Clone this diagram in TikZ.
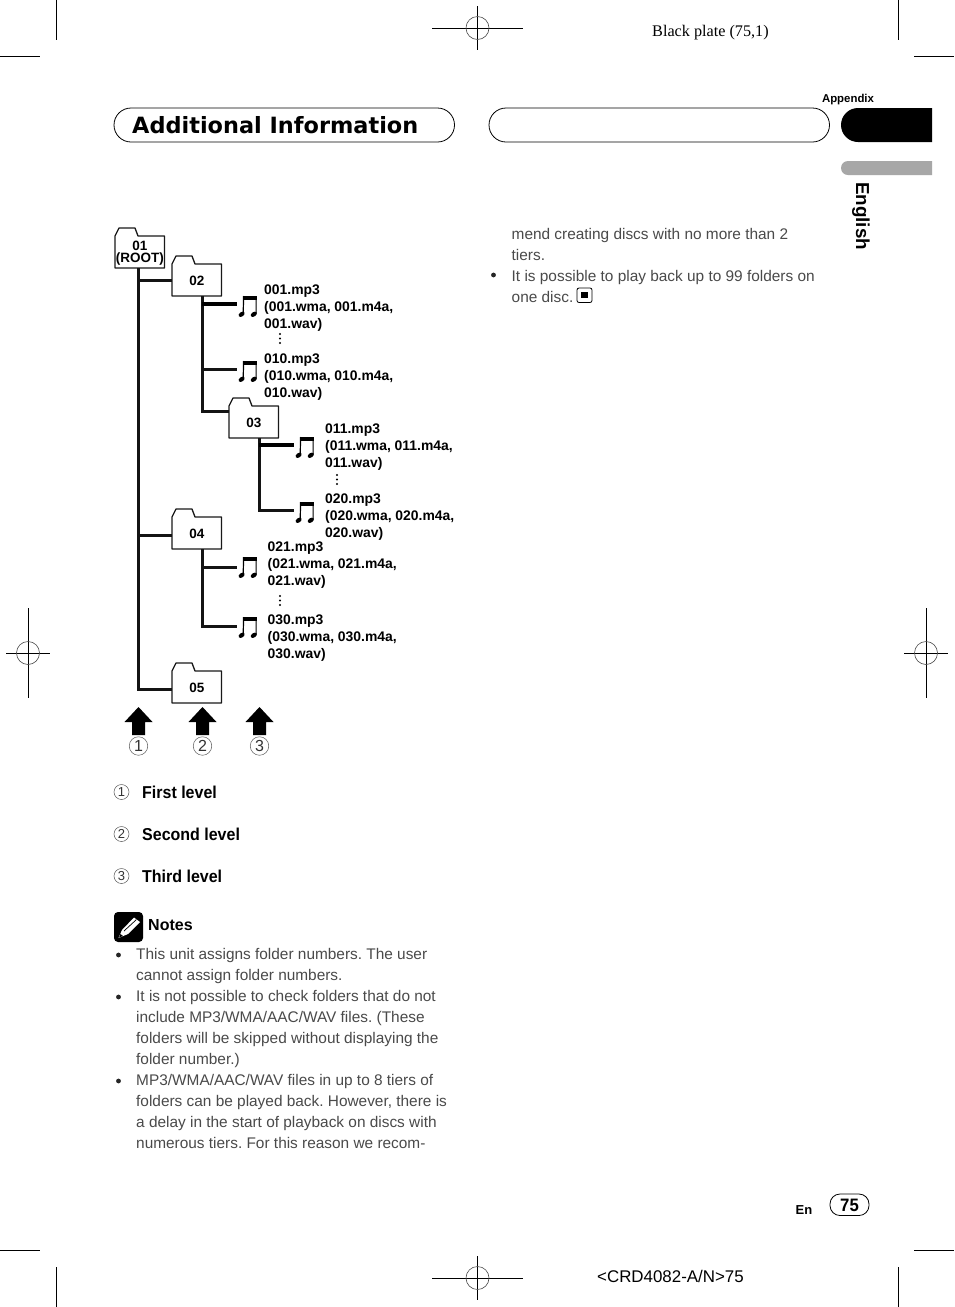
\documentclass[tikz,border=0pt]{standalone}
\usepackage{fontspec}
\setmainfont{Liberation Sans}
\newfontfamily\serifx{Liberation Serif}
\newfontfamily\wide{DejaVu Sans}
\newfontfamily\condb[FakeStretch=0.93]{Liberation Sans}
\definecolor{bodyc}{HTML}{4A4A4A}
\definecolor{tabgray}{HTML}{A7A7A7}
\frenchspacing
\tikzset{
  x=1pt,y=-1pt,
  crop/.style={line width=1pt,black},
  regcircle/.style={line width=0.6pt,black!70},
  pill/.style={line width=0.8pt,black},
  folderbody/.style={rectangle,minimum width=49.5pt,minimum height=32pt,inner sep=0pt,font=\fontsize{13.5}{13.5}\selectfont\bfseries,align=center},
  folderline/.style={fill=white,draw=black!90,line width=1.3pt,line join=round},
  link/.style={line width=3pt,black!92,line cap=butt},
  linkthick/.style={line width=3.3pt,black},
  files/.style={anchor=north west,inner sep=0pt,align=left,font=\fontsize{13.9}{17}\selectfont\bfseries},
  bodytxt/.style={anchor=north west,inner sep=0pt,align=left,text=bodyc,font=\fontsize{15.4}{21}\selectfont},
  legendtxt/.style={anchor=west,inner sep=0pt,font=\fontsize{17.2}{20}\selectfont\condb\bfseries},
  circnum/.style={circle,draw=black!65,line width=0.5pt,inner sep=0pt,text=black!80},
  notecoord/.style={inner sep=0pt,minimum width=1pt,minimum height=1pt},
}
% #1 name, #2 left, #3 body top, #4 label
\newcommand{\folderx}[4]{%
  \draw[folderline] (#2,#3) -- (#2+4,#3-8) -- (#2+20,#3-8) -- (#2+23,#3) -- (#2+49.5,#3) -- (#2+49.5,#3+32) -- (#2,#3+32) -- cycle;
  \node[folderbody,anchor=north west] (#1) at (#2,#3+1) {#4};
}
% #1 name, #2 x left, #3 y top
\newcommand{\notex}[3]{%
  \node[notecoord,anchor=west] (#1) at (#2-1,#3+8) {};
  \fill (#2+5,#3) rectangle (#2+18.7,#3+4);
  \draw[line width=1.2pt] (#2+5.6,#3) -- (#2+5.2,#3+18) (#2+18.1,#3) -- (#2+18.1,#3+18);
  \fill[rotate around={35:(#2+3.6,#3+18.3)}] (#2+3.6,#3+18.3) ellipse (3.4 and 2.2);
  \fill[rotate around={35:(#2+15.8,#3+18.3)}] (#2+15.8,#3+18.3) ellipse (3.4 and 2.2);
}
\newcommand{\uparrowx}[2]{%
  \fill (#1,#2) -- (#1+14,#2+15) -- (#1+6.5,#2+15) -- (#1+6.5,#2+28) -- (#1-6.5,#2+28) -- (#1-6.5,#2+15) -- (#1-14,#2+15) -- cycle;
}
\newcommand{\regx}[4]{% cx cy hhalf vhalf
  \draw[crop] (#1-#3,#2) -- (#1+#3,#2) (#1,#2-#4) -- (#1,#2+#4);
  \draw[regcircle] (#1,#2) circle (11.5);
}
\newcommand{\vdotsx}[2]{%
  \fill (#1,#2) circle (1.1) (#1,#2+4.5) circle (1.1) (#1,#2+9) circle (1.1);
}
\begin{document}
\begin{tikzpicture}
\useasboundingbox (0,0) rectangle (954,1307);
\fill[white] (0,0) rectangle (954,1307);
% crop marks
\draw[crop] (56.5,0) -- (56.5,40) (0,56.5) -- (40,56.5);
\draw[crop] (898,0) -- (898,40) (914,56.5) -- (954,56.5);
\draw[crop] (0,1250) -- (40,1250) (56.5,1267) -- (56.5,1307);
\draw[crop] (914,1250) -- (954,1250) (898,1267) -- (898,1307);
\regx{477.5}{28}{45.5}{22}
\regx{477.5}{1278}{45.5}{22}
\regx{28}{653}{22}{45}
\regx{926}{653}{22}{45}
\node[inner sep=0pt,anchor=west,font=\fontsize{16.2}{16}\selectfont\serifx] (plate) at (652,33) {Black plate (75,1)};
\node[inner sep=0pt,anchor=west,font=\fontsize{16.9}{16}\selectfont] (crd) at (597,1276) {<CRD4082-A/N>75};
% header
\draw[pill,rounded corners=17pt] (114,108) rectangle (454.5,142);
\draw[pill,rounded corners=17pt] (489,108) rectangle (829.5,142);
\node[inner sep=0pt,anchor=west,font=\fontsize{22.4}{24}\selectfont\wide\bfseries] (title) at (132,125) {Additional Information};
\node[inner sep=0pt,font=\fontsize{11.4}{12}\selectfont\bfseries] (appx) at (848,100) {Appendix};
\fill (932,108) -- (858,108) .. controls (848.6,108) and (841,115.6) .. (841,125) .. controls (841,134.4) and (848.6,142) .. (858,142) -- (932,142) -- cycle;
\fill[tabgray] (932,161) -- (848,161) .. controls (844.1,161) and (841,164.1) .. (841,168) .. controls (841,171.9) and (844.1,175) .. (848,175) -- (932,175) -- cycle;
\node[inner sep=0pt,rotate=-90,font=\fontsize{18.8}{18}\selectfont\bfseries] (eng) at (861,216) {English};
% folders
\folderx{f1}{115}{236}{01\\[-1.5pt](ROOT)}
\folderx{f2}{172}{264}{02}
\folderx{f3}{229}{406}{03}
\folderx{f4}{172}{517}{04}
\folderx{f5}{172}{671}{05}
% notes
\notex{n1}{238}{296}
\notex{n2}{238}{361}
\notex{n3}{295}{437}
\notex{n4}{295}{502}
\notex{n5}{238}{557}
\notex{n6}{238}{617}
% links
\draw[link] (138,268) -- (138,689) -- (f5.west |- 0,689);
\draw[link] (138,280) -- (f2.west |- 0,280);
\draw[link] (138,535) -- (f4.west |- 0,535);
\draw[link] (202,296) -- (202,411) -- (f3.west |- 0,411);
\draw[linkthick] (202,304) -- (n1.west);
\draw[link] (202,369) -- (n2.west);
\draw[link] (259,438) -- (259,510) -- (n4.west);
\draw[linkthick] (259,445) -- (n3.west);
\draw[link] (202,549) -- (202,626) -- (n6.west |- 0,626);
\draw[link] (202,567) -- (n5.west |- 0,567);
% file texts
\node[files] (t1) at (264,285) {001.mp3\\(001.wma, 001.m4a,\\001.wav)};
\vdotsx{280}{334}
\node[files] (t2) at (264,354) {010.mp3\\(010.wma, 010.m4a,\\010.wav)};
\node[files] (t3) at (325,424) {011.mp3\\(011.wma, 011.m4a,\\011.wav)};
\vdotsx{337}{475}
\node[files] (t4) at (325,494) {020.mp3\\(020.wma, 020.m4a,\\020.wav)};
\node[files] (t5) at (267.5,542) {021.mp3\\(021.wma, 021.m4a,\\021.wav)};
\vdotsx{280}{596}
\node[files] (t6) at (267.5,615) {030.mp3\\(030.wma, 030.m4a,\\030.wav)};
% arrows
\uparrowx{138.5}{707}
\uparrowx{202.5}{707}
\uparrowx{259.5}{707}
\node[circnum,minimum size=18.5pt,font=\fontsize{16}{16}\selectfont] (c1) at (138.5,746) {1};
\node[circnum,minimum size=18.5pt,font=\fontsize{16}{16}\selectfont] (c2) at (202.5,746) {2};
\node[circnum,minimum size=18.5pt,font=\fontsize{16}{16}\selectfont] (c3) at (259.5,746) {3};
% legend
\node[circnum,minimum size=15pt,font=\fontsize{13}{13}\selectfont] (l1) at (121.5,792) {1};
\node[circnum,minimum size=15pt,font=\fontsize{13}{13}\selectfont] (l2) at (121.5,834) {2};
\node[circnum,minimum size=15pt,font=\fontsize{13}{13}\selectfont] (l3) at (121.5,876) {3};
\node[legendtxt] (lt1) at (142,792) {First level};
\node[legendtxt] (lt2) at (142,834) {Second level};
\node[legendtxt] (lt3) at (142,876) {Third level};
% notes header
\fill[rounded corners=4pt] (114,912) rectangle (143,942);
\fill[white] (122,930) -- (134,917.5) -- (140,922) -- (128,934) -- (118.5,938) -- cycle;
\draw[line width=0.7pt] (124,931) -- (136.5,919.5);
\fill (119,937.5) -- (120.5,934) -- (123,936) -- cycle;
\node[inner sep=0pt,anchor=west,font=\fontsize{16}{16}\selectfont\bfseries] (notes) at (148,925) {Notes};
% body
\node[bodytxt] (b1) at (136,948) {This unit assigns folder numbers. The user\\cannot assign folder numbers.};
\node[bodytxt] (b2) at (136,990) {It is not possible to check folders that do not\\include MP3/WMA/AAC/WAV files. (These\\folders will be skipped without displaying the\\folder number.)};
\node[bodytxt] (b3) at (136,1074) {MP3/WMA/AAC/WAV files in up to 8 tiers of\\folders can be played back. However, there is\\a delay in the start of playback on discs with\\numerous tiers. For this reason we recom-};
\fill[black!85] (118.5,955) circle (2.4) (118.5,997) circle (2.4) (118.5,1081) circle (2.4);
\node[bodytxt] (b4) at (511.5,228) {mend creating discs with no more than 2\\tiers.};
\node[bodytxt] (b5) at (511.5,270) {It is possible to play back up to 99 folders on\\one disc.};
\fill[black!85] (493.5,275) circle (2.4);
\draw[line width=0.8pt,rounded corners=2pt] (577,288) rectangle (592,302.5);
\fill (581,291.5) rectangle (587.5,298);
% footer
\node[inner sep=0pt,font=\fontsize{13}{13}\selectfont\bfseries] (en) at (804,1210) {En};
\draw[pill,rounded corners=10pt] (830,1194) rectangle (869,1215.5);
\node[inner sep=0pt,font=\fontsize{18}{18}\selectfont\condb\bfseries] (pg) at (849.5,1205) {75};
\end{tikzpicture}
\end{document}
